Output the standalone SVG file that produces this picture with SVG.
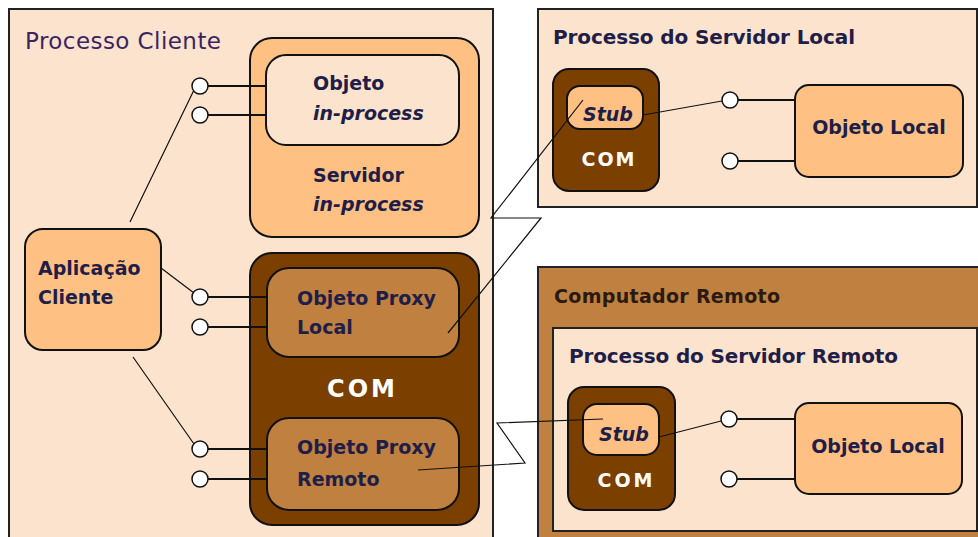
<svg xmlns="http://www.w3.org/2000/svg" width="978" height="537" viewBox="0 0 978 537">
<defs>
<style>
.proc{fill:#FCE3CD;stroke:#222;stroke-width:2}
.remote{fill:#C0803F;stroke:#222;stroke-width:2}
.lo{fill:#FFC183;stroke:#111;stroke-width:2}
.pl{fill:#FCE3CD;stroke:#111;stroke-width:2}
.com{fill:#7B3F00;stroke:#111;stroke-width:2}
.px{fill:#C0803F;stroke:#111;stroke-width:2}
.itf{fill:#fff;stroke:#111;stroke-width:1.5}
.lead{stroke:#111;stroke-width:2;fill:none}
.link{stroke:#111;stroke-width:1.2;fill:none}
.t{font-family:"DejaVu Sans",sans-serif;fill:#1e1e48}
.b{font-family:"DejaVu Sans",sans-serif;font-weight:bold;font-size:19px;fill:#1e1e48}
.i{font-style:italic}
.w{font-family:"DejaVu Sans",sans-serif;font-weight:bold;fill:#fff}
</style>
</defs>
<rect width="978" height="537" fill="#fff"/>

<g id="processo-cliente">
<rect class="proc" x="9" y="9" width="484" height="540"/>
<text class="t" x="25" y="49" font-size="23" textLength="196" style="fill:#3a2462">Processo Cliente</text>
</g>

<g id="servidor-local">
<rect class="proc" x="538" y="9" width="439" height="198"/>
<text class="b" x="553" y="44" style="font-size:20px" textLength="302">Processo do Servidor Local</text>
</g>

<g id="computador-remoto">
<rect class="remote" x="538" y="267" width="445" height="280"/>
<text class="b" x="554" y="303" style="font-size:19px;fill:#2a1a10;font-weight:600" textLength="226">Computador Remoto</text>
</g>

<g id="servidor-remoto">
<rect class="proc" x="553" y="328" width="424" height="203"/>
<text class="b" x="569" y="363" style="font-size:20px" textLength="329">Processo do Servidor Remoto</text>
</g>

<g id="servidor-in-process">
<rect class="lo" x="250" y="38" width="229" height="199" rx="22"/>
<text class="b" x="313" y="182">Servidor</text>
<text class="b i" x="313" y="211">in-process</text>
</g>

<g id="objeto-in-process">
<rect class="pl" x="266" y="55" width="193" height="90" rx="20"/>
<text class="b" x="313" y="90">Objeto</text>
<text class="b i" x="313" y="120">in-process</text>
</g>

<g id="aplicacao-cliente">
<rect class="lo" x="25" y="229" width="136" height="121" rx="18"/>
<text class="b" x="38" y="275">Aplicação</text>
<text class="b" x="38" y="304">Cliente</text>
</g>

<g id="com-cliente">
<rect class="com" x="250" y="253" width="229" height="272" rx="22"/>
<text class="w" x="361" y="397" font-size="24" text-anchor="middle" textLength="68">COM</text>
</g>

<g id="proxy-local">
<rect class="px" x="267" y="268" width="192" height="89" rx="22"/>
<text class="b" x="297" y="305">Objeto Proxy</text>
<text class="b" x="297" y="334">Local</text>
</g>

<g id="proxy-remoto">
<rect class="px" x="267" y="418" width="192" height="92" rx="22"/>
<text class="b" x="297" y="454">Objeto Proxy</text>
<text class="b" x="297" y="486">Remoto</text>
</g>

<g id="com-local">
<rect class="com" x="553" y="69" width="106" height="122" rx="16"/>
<text class="w" x="608" y="166" font-size="19" text-anchor="middle" textLength="53">COM</text>
</g>

<g id="stub-local">
<rect class="lo" x="567" y="86" width="76" height="43" rx="13"/>
<text class="b i" x="583" y="121">Stub</text>
</g>

<g id="objeto-local">
<rect class="lo" x="795" y="85" width="168" height="92" rx="14"/>
<text class="b" x="879" y="134" text-anchor="middle">Objeto Local</text>
</g>

<g id="com-remoto">
<rect class="com" x="568" y="387" width="107" height="123" rx="16"/>
<text class="w" x="625" y="487" font-size="19" text-anchor="middle" textLength="55">COM</text>
</g>

<g id="stub-remoto">
<rect class="lo" x="583" y="404" width="76" height="51" rx="14"/>
<text class="b i" x="599" y="441">Stub</text>
</g>

<g id="objeto-remoto">
<rect class="lo" x="795" y="403" width="167" height="91" rx="14"/>
<text class="b" x="878" y="453" text-anchor="middle">Objeto Local</text>
</g>

<g id="connectors">
<path class="lead" d="M208 86H266M208 115H266M208 297H267M208 327H267M208 449H267M208 479H267"/>
<path class="lead" d="M738 100H795M738 161H795M737 419H795M737 479H795"/>
<path class="link" d="M130 222L194 90M161 268L194 293M133 357L194 444"/>
<path class="link" d="M643 115L722 101M659 437L721 421"/>
<path class="link" d="M583 100L491 218H541L448 333"/>
<path class="link" d="M418 470L525 463L497 423L603 419"/>
<circle class="itf" cx="200" cy="86" r="8"/>
<circle class="itf" cx="200" cy="115" r="8"/>
<circle class="itf" cx="200" cy="297" r="8"/>
<circle class="itf" cx="200" cy="327" r="8"/>
<circle class="itf" cx="200" cy="449" r="8"/>
<circle class="itf" cx="200" cy="479" r="8"/>
<circle class="itf" cx="730" cy="100" r="8"/>
<circle class="itf" cx="730" cy="161" r="8"/>
<circle class="itf" cx="729" cy="419" r="8"/>
<circle class="itf" cx="729" cy="479" r="8"/>
</g>
</svg>
